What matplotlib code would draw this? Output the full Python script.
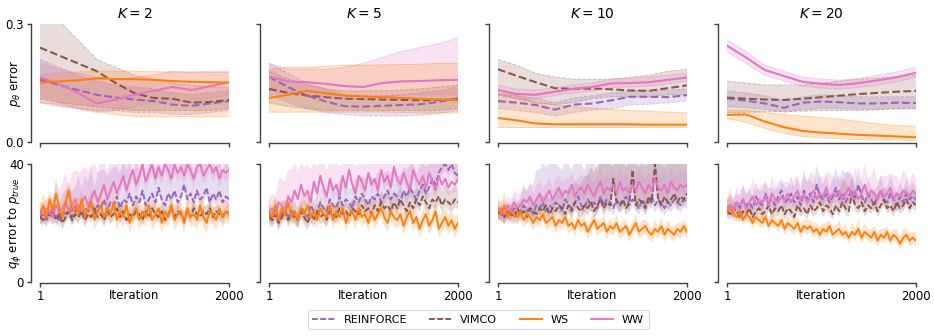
import matplotlib
matplotlib.use("Agg")
import matplotlib.pyplot as plt
import numpy as np

plt.rcParams['font.family'] = ['DejaVu Sans']
plt.rcParams['mathtext.fontset'] = 'dejavusans'

ks = [2, 5, 10, 20]
methods = ['REINFORCE', 'VIMCO', 'WS', 'WW']
iter_min, iter_max = 1, 2000

# ---------------- top row: p_theta error (mean, lower, upper) ----------------
p_K2_REINFORCE = [0.158, 0.145, 0.132, 0.12, 0.113, 0.108, 0.104, 0.095, 0.092, 0.098, 0.104]
p_K2_REINFORCE_lo = [0.10, 0.09, 0.085, 0.08, 0.08, 0.075, 0.075, 0.07, 0.07, 0.075, 0.08]
p_K2_REINFORCE_hi = [0.21, 0.19, 0.17, 0.155, 0.145, 0.14, 0.135, 0.125, 0.12, 0.125, 0.13]
p_K2_VIMCO = [0.24, 0.22, 0.2, 0.18, 0.15, 0.124, 0.112, 0.11, 0.10, 0.102, 0.107]
p_K2_VIMCO_lo = [0.11, 0.10, 0.095, 0.09, 0.085, 0.08, 0.08, 0.08, 0.08, 0.08, 0.085]
p_K2_VIMCO_hi = [0.33, 0.31, 0.26, 0.21, 0.19, 0.17, 0.16, 0.15, 0.145, 0.14, 0.14]
p_K2_WS = [0.151, 0.154, 0.157, 0.162, 0.16, 0.16, 0.158, 0.155, 0.153, 0.152, 0.151]
p_K2_WS_lo = [0.10, 0.095, 0.085, 0.078, 0.07, 0.065, 0.064, 0.064, 0.064, 0.064, 0.064]
p_K2_WS_hi = [0.17, 0.175, 0.178, 0.18, 0.18, 0.18, 0.179, 0.178, 0.177, 0.177, 0.177]
p_K2_WW = [0.164, 0.148, 0.125, 0.098, 0.108, 0.12, 0.13, 0.14, 0.132, 0.142, 0.152]
p_K2_WW_lo = [0.12, 0.10, 0.085, 0.075, 0.08, 0.09, 0.1, 0.105, 0.1, 0.11, 0.12]
p_K2_WW_hi = [0.2, 0.185, 0.175, 0.165, 0.16, 0.165, 0.17, 0.18, 0.178, 0.18, 0.18]

p_K5_REINFORCE = [0.166, 0.14, 0.118, 0.103, 0.091, 0.09, 0.092, 0.094, 0.096, 0.102, 0.111]
p_K5_REINFORCE_lo = [0.12, 0.1, 0.085, 0.075, 0.07, 0.066, 0.066, 0.066, 0.068, 0.072, 0.08]
p_K5_REINFORCE_hi = [0.2, 0.175, 0.15, 0.135, 0.12, 0.115, 0.118, 0.12, 0.125, 0.13, 0.14]
p_K5_VIMCO = [0.135, 0.125, 0.118, 0.114, 0.11, 0.109, 0.108, 0.107, 0.106, 0.107, 0.108]
p_K5_VIMCO_lo = [0.1, 0.09, 0.085, 0.08, 0.08, 0.08, 0.08, 0.08, 0.08, 0.08, 0.085]
p_K5_VIMCO_hi = [0.18, 0.16, 0.145, 0.135, 0.13, 0.13, 0.13, 0.132, 0.135, 0.14, 0.145]
p_K5_WS = [0.112, 0.12, 0.13, 0.124, 0.118, 0.116, 0.114, 0.112, 0.11, 0.108, 0.106]
p_K5_WS_lo = [0.076, 0.076, 0.076, 0.076, 0.076, 0.076, 0.076, 0.075, 0.074, 0.074, 0.074]
p_K5_WS_hi = [0.185, 0.19, 0.19, 0.192, 0.195, 0.195, 0.196, 0.197, 0.198, 0.2, 0.2]
p_K5_WW = [0.166, 0.154, 0.152, 0.148, 0.142, 0.14, 0.15, 0.154, 0.155, 0.157, 0.158]
p_K5_WW_lo = [0.13, 0.12, 0.118, 0.115, 0.11, 0.11, 0.115, 0.12, 0.12, 0.12, 0.12]
p_K5_WW_hi = [0.2, 0.185, 0.185, 0.185, 0.19, 0.2, 0.215, 0.23, 0.24, 0.25, 0.265]

p_K10_REINFORCE = [0.104, 0.1, 0.094, 0.082, 0.095, 0.098, 0.106, 0.115, 0.115, 0.114, 0.119]
p_K10_REINFORCE_lo = [0.085, 0.08, 0.075, 0.066, 0.075, 0.082, 0.085, 0.094, 0.096, 0.1, 0.104]
p_K10_REINFORCE_hi = [0.12, 0.118, 0.112, 0.1, 0.112, 0.118, 0.125, 0.13, 0.132, 0.132, 0.135]
p_K10_VIMCO = [0.185, 0.168, 0.152, 0.137, 0.135, 0.136, 0.134, 0.131, 0.13, 0.137, 0.144]
p_K10_VIMCO_lo = [0.12, 0.11, 0.1, 0.095, 0.1, 0.11, 0.115, 0.115, 0.115, 0.12, 0.12]
p_K10_VIMCO_hi = [0.21, 0.195, 0.175, 0.165, 0.16, 0.16, 0.16, 0.165, 0.17, 0.18, 0.185]
p_K10_WS = [0.061, 0.055, 0.047, 0.045, 0.045, 0.045, 0.045, 0.045, 0.044, 0.044, 0.044]
p_K10_WS_lo = [0.037, 0.037, 0.037, 0.037, 0.037, 0.037, 0.037, 0.037, 0.037, 0.037, 0.037]
p_K10_WS_hi = [0.125, 0.118, 0.1, 0.095, 0.09, 0.086, 0.083, 0.08, 0.078, 0.076, 0.074]
p_K10_WW = [0.132, 0.122, 0.12, 0.128, 0.135, 0.14, 0.149, 0.15, 0.152, 0.158, 0.164]
p_K10_WW_lo = [0.12, 0.11, 0.11, 0.118, 0.125, 0.13, 0.138, 0.14, 0.142, 0.148, 0.154]
p_K10_WW_hi = [0.145, 0.134, 0.132, 0.138, 0.145, 0.15, 0.16, 0.162, 0.165, 0.17, 0.175]

p_K20_REINFORCE = [0.111, 0.105, 0.098, 0.087, 0.1, 0.103, 0.101, 0.098, 0.098, 0.1, 0.099]
p_K20_REINFORCE_lo = [0.09, 0.087, 0.083, 0.075, 0.082, 0.085, 0.085, 0.083, 0.083, 0.085, 0.085]
p_K20_REINFORCE_hi = [0.13, 0.125, 0.118, 0.105, 0.115, 0.12, 0.118, 0.115, 0.115, 0.115, 0.115]
p_K20_VIMCO = [0.113, 0.11, 0.108, 0.107, 0.11, 0.114, 0.118, 0.122, 0.125, 0.128, 0.13]
p_K20_VIMCO_lo = [0.075, 0.075, 0.077, 0.078, 0.078, 0.08, 0.08, 0.08, 0.082, 0.084, 0.085]
p_K20_VIMCO_hi = [0.155, 0.15, 0.145, 0.145, 0.145, 0.15, 0.155, 0.16, 0.163, 0.166, 0.17]
p_K20_WS = [0.069, 0.07, 0.052, 0.038, 0.028, 0.024, 0.021, 0.018, 0.016, 0.014, 0.012]
p_K20_WS_lo = [0.06, 0.05, 0.035, 0.022, 0.014, 0.01, 0.008, 0.006, 0.005, 0.005, 0.004]
p_K20_WS_hi = [0.08, 0.08, 0.075, 0.07, 0.066, 0.062, 0.058, 0.052, 0.046, 0.042, 0.04]
p_K20_WW = [0.245, 0.215, 0.183, 0.168, 0.153, 0.148, 0.145, 0.15, 0.157, 0.165, 0.176]
p_K20_WW_lo = [0.23, 0.2, 0.17, 0.155, 0.142, 0.137, 0.134, 0.139, 0.145, 0.153, 0.164]
p_K20_WW_hi = [0.26, 0.23, 0.195, 0.18, 0.165, 0.16, 0.157, 0.162, 0.17, 0.178, 0.19]

# ---------------- bottom row: q_phi error (mean, upper spread, lower spread) ----------------
q_K2_REINFORCE = [22,23,21,24,22,23,21,24,23,25,22,24,26,23,25,24,27,23,26,25,28,24,27,26,29,25,28,27,30,26,29,27,31,26,28,30,27,32,28,26,30,28,31,27,29,33,28,30,27,31,28,29,32,27,30,28,31,27,29,28]
q_K2_REINFORCE_up = [2,3,2,3,3,4,5,6,8,7,9,8,10,9,11,10,12,9,11,13,10,12,11,13,10,12,14,11,13,10,12,11,13,10,12,14,11,12,10,13,11,12,14,10,12,11,13,12,10,12,11,13,12,10,13,11,12,10,12,11]
q_K2_REINFORCE_dn = 2.5
q_K2_VIMCO = [22,21,23,22,24,21,23,20,22,24,21,23,22,24,21,23,22,25,22,23,21,24,22,23,25,22,24,21,23,22,24,23,21,24,22,25,23,22,24,21,23,25,22,24,23,21,24,22,25,23,22,24,23,25,22,24,23,22,24,23]
q_K2_VIMCO_up = [2,3,2,2,3,2,3,2,2,3,2,3,2,2,3,2,3,2,3,2,2,3,2,3,2,3,2,2,3,2,3,2,2,3,2,3,2,2,3,2,3,2,3,2,2,3,2,3,2,3,2,2,3,2,3,2,3,2,2,3]
q_K2_VIMCO_dn = 2.0
q_K2_WS = [23,26,22,28,24,30,25,22,27,31,24,26,23,28,22,25,27,21,24,26,22,25,23,27,21,24,22,26,20,23,25,21,24,22,26,21,23,25,20,24,22,26,21,23,24,20,25,22,23,21,26,22,20,24,23,21,25,22,24,23]
q_K2_WS_up = [3,4,5,3,4,5,3,4,4,3,4,3,5,3,4,3,4,4,3,5,3,4,3,4,5,3,4,3,4,3,5,4,3,4,3,4,5,3,4,3,4,3,5,4,3,4,3,5,4,3,4,5,3,4,3,4,5,3,4,3]
q_K2_WS_dn = 3.5
q_K2_WW = [24,23,25,24,22,26,24,25,27,24,26,28,25,27,29,26,28,31,27,30,33,28,31,34,30,33,36,31,35,38,33,36,40,34,37,40,35,39,36,40,38,35,40,37,39,36,40,38,35,39,40,36,38,40,37,39,35,38,37,38]
q_K2_WW_up = [3,4,3,5,6,8,7,9,10,9,11,10,12,11,10,12,11,13,10,12,11,10,12,11,10,12,11,12,10,13,11,12,10,12,11,10,12,11,13,11,10,12,11,13,10,12,11,10,12,11,13,10,12,11,10,12,11,13,12,11]
q_K2_WW_dn = 3.0

q_K5_REINFORCE = [23,22,24,21,23,25,22,24,23,21,25,24,22,26,24,23,27,25,24,28,26,25,29,26,28,27,25,29,27,30,28,26,29,28,30,27,29,31,28,30,29,27,31,29,32,30,28,31,33,30,32,35,33,37,39,40,38,40,37,36]
q_K5_REINFORCE_up = [3,3,4,3,4,3,4,4,5,4,5,4,5,5,4,6,5,6,5,6,6,5,6,7,6,5,7,6,7,6,7,8,7,6,8,7,8,7,9,8,7,9,8,9,8,10,9,8,10,9,8,10,9,8,9,10,8,9,10,9]
q_K5_REINFORCE_dn = 2.5
q_K5_VIMCO = [22,21,23,20,22,24,21,23,22,21,24,22,20,23,21,24,22,23,21,24,23,22,25,23,24,22,25,24,23,26,24,25,23,26,24,27,25,26,24,27,25,28,26,24,27,25,28,26,29,27,25,28,27,29,26,28,27,26,28,27]
q_K5_VIMCO_up = [2,3,2,3,2,3,2,3,2,3,3,2,3,2,3,3,2,3,3,2,3,3,4,3,3,4,3,4,3,4,4,3,4,4,3,4,4,5,4,4,5,4,4,5,4,5,4,5,5,4,5,4,5,5,4,5,4,5,5,4]
q_K5_VIMCO_dn = 2.5
q_K5_WS = [24,22,26,21,25,23,27,22,24,21,25,23,26,22,24,21,25,23,22,26,21,24,22,25,20,23,24,21,25,22,23,20,24,21,23,25,22,20,24,22,21,23,19,22,24,20,22,18,21,23,19,21,24,18,20,22,19,21,18,20]
q_K5_WS_up = [3,4,3,5,3,4,3,4,3,4,3,4,4,3,4,3,4,3,4,3,4,3,4,3,4,3,4,3,4,3,4,3,4,3,4,3,4,3,4,3,4,3,4,3,4,3,4,3,4,3,4,3,4,3,4,3,4,3,4,3]
q_K5_WS_dn = 3.0
q_K5_WW = [24,25,23,27,26,24,29,27,31,28,33,29,31,27,34,30,36,32,29,35,31,33,29,36,32,38,33,30,36,34,31,37,33,35,31,38,34,36,32,39,35,33,37,34,31,38,35,33,36,32,37,34,31,36,33,35,32,34,33,35]
q_K5_WW_up = [4,5,6,8,9,10,9,11,10,9,11,10,9,11,10,9,11,10,9,10,11,9,10,11,9,10,11,9,10,11,9,10,11,10,9,11,10,9,10,11,9,10,11,10,9,11,10,9,10,11,9,10,11,10,9,11,10,9,10,11]
q_K5_WW_dn = 3.0

q_K10_REINFORCE = [23,24,22,24,23,25,22,24,26,24,25,23,26,25,27,24,26,25,27,26,24,28,26,25,27,29,26,25,28,26,27,25,29,26,28,27,25,28,26,27,29,26,28,27,25,28,26,27,29,26,28,27,25,27,26,28,27,26,28,27]
q_K10_REINFORCE_up = [2,2,3,3,3,4,4,5,6,7,8,10,12,13,14,15,14,15,14,13,14,15,14,13,14,15,14,13,14,15,14,13,14,15,14,13,14,15,14,13,14,15,14,13,14,15,14,13,14,15,14,13,14,15,14,13,14,15,14,13]
q_K10_REINFORCE_dn = 2.5
q_K10_VIMCO = [24,23,22,24,23,22,25,23,24,22,25,24,23,25,24,26,23,25,24,26,25,23,26,24,27,25,24,26,25,27,24,26,28,25,27,26,35,27,26,28,25,27,38,26,28,27,25,29,27,40,28,26,29,27,28,30,27,29,28,30]
q_K10_VIMCO_up = [2,2,3,2,3,2,3,3,4,3,4,3,4,4,5,4,5,4,5,5,6,5,6,7,7,8,9,10,11,12,13,14,14,15,14,15,14,15,14,15,14,15,14,15,14,15,14,15,14,15,14,15,14,15,14,15,14,15,14,15]
q_K10_VIMCO_dn = 2.5
q_K10_WS = [25,23,26,22,24,23,22,24,21,23,22,20,22,21,23,20,21,22,19,21,20,22,19,20,18,21,19,20,17,19,21,18,19,20,17,19,18,20,17,18,19,16,18,20,17,18,19,17,16,18,17,19,16,18,17,16,18,17,19,17]
q_K10_WS_up = [4,3,5,3,3,3,2,3,2,3,2,3,2,3,2,3,2,3,2,3,2,3,2,3,2,3,2,3,2,3,2,3,2,3,2,3,2,3,2,3,2,3,2,3,2,3,2,3,2,3,2,3,2,3,2,3,2,3,2,3]
q_K10_WS_dn = 2.5
q_K10_WW = [24,25,23,26,24,27,25,26,28,27,29,26,28,30,27,29,31,28,30,32,29,31,30,33,29,31,32,30,33,31,29,32,34,30,32,31,33,30,34,31,32,30,33,31,34,32,30,33,31,35,32,31,33,30,34,32,31,33,32,33]
q_K10_WW_up = [3,3,4,3,4,4,5,4,5,4,5,4,5,4,5,4,5,4,5,4,5,4,5,4,5,4,5,4,5,4,5,4,5,4,5,4,5,4,5,4,5,4,5,4,5,4,5,4,5,4,5,4,5,4,5,4,5,4,5,4]
q_K10_WW_dn = 3.0

q_K20_REINFORCE = [25,26,24,27,25,28,26,27,25,29,27,26,30,27,28,26,29,31,27,28,30,27,29,26,31,28,30,27,33,29,28,30,27,29,32,28,30,27,29,31,28,33,29,27,30,28,26,29,31,28,27,30,28,26,29,27,30,28,29,28]
q_K20_REINFORCE_up = [3,3,4,3,4,5,4,5,4,5,4,5,4,5,4,5,5,4,5,4,6,5,6,5,7,6,5,6,7,6,5,6,5,6,7,6,8,10,8,6,5,6,5,4,5,4,5,4,5,4,5,6,5,4,5,4,5,4,5,4]
q_K20_REINFORCE_dn = 2.5
q_K20_VIMCO = [24,23,25,24,22,24,23,25,22,24,25,23,24,26,23,25,24,26,23,25,24,22,26,24,25,23,26,24,25,27,24,26,25,23,26,24,27,25,24,30,26,25,27,24,26,25,27,24,26,28,25,26,24,27,25,26,28,25,27,26]
q_K20_VIMCO_up = [2,3,2,3,2,3,2,3,3,2,3,3,2,3,3,4,3,3,4,3,4,4,3,4,5,4,5,4,5,4,5,4,5,6,5,6,8,9,8,6,5,4,5,4,4,5,4,4,5,4,5,4,5,4,4,5,4,5,4,4]
q_K20_VIMCO_dn = 2.0
q_K20_WS = [24,25,23,22,24,21,23,22,20,22,21,20,22,19,21,20,19,21,18,20,19,18,20,17,19,18,19,17,18,16,18,17,19,16,17,18,16,17,15,17,16,18,15,17,16,15,17,14,16,15,17,14,16,15,13,15,16,14,15,14]
q_K20_WS_up = [4,7,3,3,3,3,2,3,2,3,2,3,2,3,2,3,2,3,2,3,2,3,2,3,2,3,2,3,2,3,2,3,2,3,2,3,2,3,2,3,2,3,2,3,2,3,2,3,2,3,2,3,2,3,2,3,2,3,2,3]
q_K20_WS_dn = 2.0
q_K20_WW = [25,26,24,27,26,28,25,27,29,26,28,27,29,26,30,28,27,29,28,30,27,29,31,28,30,27,29,31,28,30,29,32,28,30,29,31,28,30,32,29,31,28,30,33,29,31,30,28,31,29,30,32,28,30,29,31,30,29,31,30]
q_K20_WW_up = [3,4,4,5,4,5,5,4,6,5,4,6,5,4,6,5,4,5,6,4,5,6,5,4,6,7,8,6,5,7,6,5,9,6,5,6,5,7,6,5,8,6,5,7,6,5,9,6,5,7,6,5,8,6,5,7,6,5,6,5]
q_K20_WW_dn = 3.0

colors = {'REINFORCE': '#9467bd', 'VIMCO': '#8c564b', 'WS': '#ff7f0e', 'WW': '#e377c2'}
styles = {'REINFORCE': '--', 'VIMCO': '--', 'WS': '-', 'WW': '-'}
draw_order = ['REINFORCE', 'VIMCO', 'WW', 'WS']

g = globals()

W, H, DPI = 9.34, 3.36, 100
fig = plt.figure(figsize=(W, H), dpi=DPI)

def px_axes(x0, y0, x1, y1):
    return fig.add_axes([x0 / (W * DPI), 1 - y1 / (H * DPI), (x1 - x0) / (W * DPI), (y1 - y0) / (H * DPI)])

col_left = [40, 269, 498, 727]
ax_w = 189
rows = [(24, 142), (164, 282)]

spine_col = '0.25'
for ci, k in enumerate(ks):
    for ri, (yt, yb) in enumerate(rows):
        ax = px_axes(col_left[ci], yt, col_left[ci] + ax_w, yb)
        for m in draw_order:
            c = colors[m]
            ls = styles[m]
            if ri == 0:
                mean = np.array(g[f'p_K{k}_{m}'])
                lo = np.array(g[f'p_K{k}_{m}_lo'])
                hi = np.array(g[f'p_K{k}_{m}_hi'])
                x = np.linspace(iter_min, iter_max, len(mean))
                ax.fill_between(x, lo, hi, facecolor=c, alpha=0.2, edgecolor='none')
                ax.plot(x, lo, color=c, alpha=0.3, lw=0.7, ls=ls)
                ax.plot(x, hi, color=c, alpha=0.3, lw=0.7, ls=ls)
                ax.plot(x, mean, color=c, lw=1.5, ls=ls, label=m)
            else:
                mean = np.array(g[f'q_K{k}_{m}'], dtype=float)
                up = np.array(g[f'q_K{k}_{m}_up'], dtype=float)
                dn = g[f'q_K{k}_{m}_dn']
                x = np.linspace(iter_min, iter_max, len(mean))
                ax.fill_between(x, mean - dn, np.minimum(mean + up, 41), facecolor=c, alpha=0.22, edgecolor='none')
                ax.plot(x, mean, color=c, lw=1.4, ls=(0, (3, 1.2)) if ls == '--' else '-', label=m)
        ax.set_xlim(iter_min, iter_max)
        if ri == 0:
            ax.set_ylim(0, 0.3)
            ax.set_yticks([0, 0.3])
            ax.set_yticklabels(['0.0', '0.3'])
            ax.spines['left'].set_bounds(0, 0.3)
            ax.set_title(f'$K = {k}$', fontsize=10, pad=4)
        else:
            ax.set_ylim(0, 40)
            ax.set_yticks([0, 40])
            ax.set_yticklabels(['0', '40'])
            ax.spines['left'].set_bounds(0, 40)
        ax.set_xticks([1, 2000])
        ax.spines['bottom'].set_bounds(1, 2000)
        ax.spines['left'].set_position(('outward', 6.5))
        ax.spines['bottom'].set_position(('outward', 1))
        for s in ['top', 'right']:
            ax.spines[s].set_visible(False)
        for s in ['left', 'bottom']:
            ax.spines[s].set_color(spine_col)
            ax.spines[s].set_linewidth(1.0)
        ax.tick_params(axis='both', length=3, width=1.0, color=spine_col, labelsize=8.5, pad=2)
        if ri == 0:
            ax.tick_params(axis='x', labelbottom=False)
        else:
            ax.set_xticklabels(['1', '2000'])
            ax.annotate('Iteration', xy=(0.5, 0), xycoords='axes fraction', xytext=(0, -9.5),
                        textcoords='offset points', ha='center', va='center', fontsize=8.5)
        if ci > 0:
            ax.tick_params(axis='y', labelleft=False)
        else:
            if ri == 0:
                ax.set_ylabel(r'$p_\theta$ error', fontsize=8.5)
            else:
                ax.set_ylabel(r'$q_\phi$ error to $p_{true}$', fontsize=8.5)
            ax.yaxis.set_label_coords(-0.09, 0.5)
        if ri == 1 and ci == 0:
            handles, labels = ax.get_legend_handles_labels()

order = [labels.index(m) for m in methods]
leg = fig.legend([handles[i] for i in order], methods, loc='center', bbox_to_anchor=(0.512, 0.048),
                 ncol=4, fontsize=8, frameon=True, fancybox=True, handlelength=2.0,
                 columnspacing=2.0, handletextpad=0.8, borderpad=0.4)
leg.get_frame().set_edgecolor('0.8')
leg.get_frame().set_linewidth(0.8)

fig.savefig('out.png', dpi=DPI)
